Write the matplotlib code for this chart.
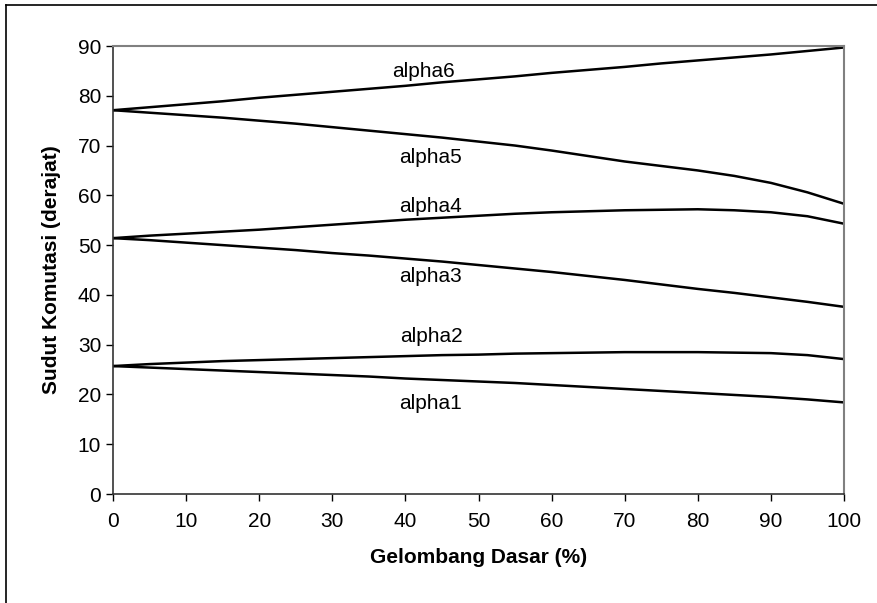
import numpy as np
import matplotlib.pyplot as plt
from matplotlib.lines import Line2D

plt.rcParams['font.family'] = ['Liberation Sans', 'DejaVu Sans']

# gelombang dasar (%)
x = [0, 5, 10, 15, 20, 25, 30, 35, 40, 45, 50, 55, 60, 65, 70, 75, 80, 85, 90, 95, 100]

alpha1 = [25.7, 25.4, 25.1, 24.8, 24.5, 24.2, 23.9, 23.6, 23.2, 22.9, 22.6,
          22.3, 21.9, 21.5, 21.1, 20.7, 20.3, 19.9, 19.5, 19.0, 18.4]
alpha2 = [25.7, 26.1, 26.4, 26.7, 26.9, 27.1, 27.3, 27.5, 27.7, 27.9, 28.0,
          28.2, 28.3, 28.4, 28.5, 28.5, 28.5, 28.4, 28.3, 27.9, 27.1]
alpha3 = [51.4, 51.0, 50.5, 50.0, 49.5, 49.0, 48.4, 47.9, 47.3, 46.7, 46.0,
          45.3, 44.6, 43.8, 43.0, 42.1, 41.2, 40.4, 39.5, 38.6, 37.6]
alpha4 = [51.4, 51.9, 52.3, 52.7, 53.1, 53.6, 54.1, 54.6, 55.1, 55.5, 55.9,
          56.3, 56.6, 56.8, 57.0, 57.1, 57.2, 57.0, 56.6, 55.8, 54.3]
alpha5 = [77.1, 76.6, 76.1, 75.6, 75.0, 74.4, 73.7, 73.0, 72.3, 71.6, 70.8,
          70.0, 69.0, 67.9, 66.8, 65.9, 65.0, 63.9, 62.5, 60.6, 58.3]
alpha6 = [77.1, 77.7, 78.3, 78.9, 79.6, 80.2, 80.8, 81.4, 82.0, 82.7, 83.3,
          83.9, 84.6, 85.2, 85.8, 86.5, 87.1, 87.7, 88.3, 89.0, 89.7]

series = [alpha1, alpha2, alpha3, alpha4, alpha5, alpha6]
names = ['alpha1', 'alpha2', 'alpha3', 'alpha4', 'alpha5', 'alpha6']
# label positions (x, y) in data units
label_pos = [(43.5, 18.1), (43.5, 31.7), (43.5, 43.6), (43.5, 57.7), (43.5, 67.7), (42.5, 84.8)]

fig = plt.figure(figsize=(8.77, 6.03), dpi=100)
ax = fig.add_axes([113/877, 1 - 494/603, (844 - 113)/877, (494 - 46)/603])

for s, n, (lx, ly) in zip(series, names, label_pos):
    ax.plot(x, s, color='black', lw=1.8)
    ax.text(lx, ly, n, ha='center', va='center', fontsize=15)

ax.set_xlim(0, 100)
ax.set_ylim(0, 90)
ax.set_xticks(np.arange(0, 101, 10))
ax.set_yticks(np.arange(0, 91, 10))
ax.tick_params(direction='out', length=5, width=1, labelsize=15, colors='black')
ax.tick_params(axis='x', pad=8)
for side in ['left', 'bottom']:
    ax.spines[side].set_color('#333333')
    ax.spines[side].set_linewidth(1.2)
for side in ['top', 'right']:
    ax.spines[side].set_color('#808080')
    ax.spines[side].set_linewidth(1.5)

ax.set_xlabel('Gelombang Dasar (%)', fontsize=15, fontweight='bold', labelpad=12)
ax.set_ylabel('Sudut Komutasi (derajat)', fontsize=15, fontweight='bold', labelpad=12)

# chart area border (only top and left visible in the crop)
fig.add_artist(Line2D([6/877, 1.0], [1 - 5/603, 1 - 5/603], color='black', lw=1.2, transform=fig.transFigure))
fig.add_artist(Line2D([6/877, 6/877], [0.0, 1 - 5/603], color='black', lw=1.2, transform=fig.transFigure))

fig.savefig('out.png', dpi=100)
